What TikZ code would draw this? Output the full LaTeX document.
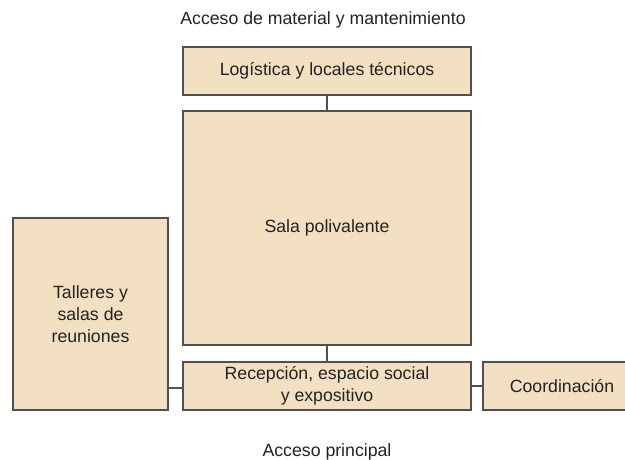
\documentclass[tikz,border=0pt]{standalone}
\usepackage{fontspec}
\setmainfont{Liberation Sans}
\definecolor{boxfill}{HTML}{F3E0C2}
\definecolor{boxline}{HTML}{505050}
\definecolor{txt}{HTML}{222222}
\begin{document}
\begin{tikzpicture}[x=1pt,y=-1pt,
  room/.style={draw=boxline, line width=1.4pt, fill=boxfill, text=txt, align=center,
    inner sep=0pt, font=\fontsize{17.7}{22}\selectfont},
  link/.style={draw=boxline, line width=1.4pt},
  label/.style={text=txt, font=\fontsize{17.7}{22}\selectfont, inner sep=0pt}]
\useasboundingbox (0,0) rectangle (625,459);
\node[label] (top) at (323,20) {Acceso de material y mantenimiento};
\node[label] (bottom) at (327,452) {Acceso principal};
\node[room, minimum width=288, minimum height=48] (log) at (327,71) {Log\'istica y locales t\'ecnicos};
\node[room, minimum width=288, minimum height=234] (sala) at (327,228) {Sala polivalente};
\node[room, minimum width=288, minimum height=48] (rec) at (327,386) {Recepci\'on, espacio social\\y expositivo};
\node[room, minimum width=158, minimum height=48] (coord) at (562,386) {Coordinaci\'on};
\node[room, minimum width=155, minimum height=192] (tall) at (90.5,314) {Talleres y\\salas de\\reuniones};
\draw[link] (log.south) -- (sala.north);
\draw[link] (sala.south) -- (rec.north);
\draw[link] ([yshift=-2pt]rec.west) -- ([yshift=-2pt]rec.west -| tall.east);
\draw[link] (rec.east) -- (coord.west);
\end{tikzpicture}
\end{document}
